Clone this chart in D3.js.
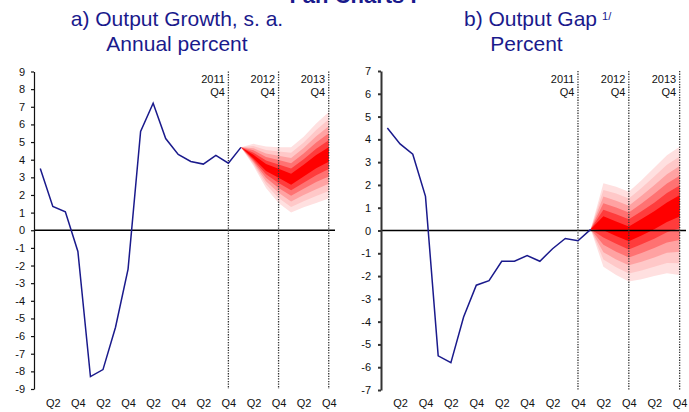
<!DOCTYPE html>
<html>
<head>
<meta charset="utf-8">
<script src="https://cdn.jsdelivr.net/npm/d3@7"></script>
<style>
  body { margin: 0; background: #fff; }
  svg { display: block; font-family: Arial, 'Liberation Sans', sans-serif; }
</style>
</head>
<body>
<div id="chart"></div>
<script>
// quarters shown on both panels
var quarters = ['2008Q1', '2008Q2', '2008Q3', '2008Q4', '2009Q1', '2009Q2', '2009Q3', '2009Q4',
  '2010Q1', '2010Q2', '2010Q3', '2010Q4', '2011Q1', '2011Q2', '2011Q3', '2011Q4',
  '2012Q1', '2012Q2', '2012Q3', '2012Q4', '2013Q1', '2013Q2', '2013Q3', '2013Q4']
var markers = ['2011Q4', '2012Q4', '2013Q4']

// a) output growth, history 2008Q1-2012Q1
var growthHist = [3.5, 1.35, 1.05, -1.2, -8.3, -7.9, -5.5, -2.2, 5.6, 7.2, 5.2, 4.3, 3.9, 3.75, 4.25, 3.8, 4.7]
// fan band edges 2012Q1-2013Q4, lowest to highest
var growthFan = [
  [4.70, 3.65, 2.40, 1.55, 1.00, 1.30, 1.55, 1.80],
  [4.70, 3.73, 2.59, 1.83, 1.32, 1.65, 1.94, 2.22],
  [4.70, 3.82, 2.78, 2.12, 1.63, 2.00, 2.33, 2.63],
  [4.70, 3.90, 2.98, 2.40, 1.95, 2.35, 2.73, 3.05],
  [4.70, 3.98, 3.17, 2.68, 2.27, 2.70, 3.12, 3.47],
  [4.70, 4.07, 3.36, 2.97, 2.58, 3.05, 3.51, 3.88],
  [4.70, 4.28, 3.75, 3.49, 3.20, 3.72, 4.26, 4.70],
  [4.70, 4.40, 3.95, 3.73, 3.50, 4.03, 4.62, 5.10],
  [4.70, 4.53, 4.15, 3.98, 3.80, 4.35, 4.98, 5.50],
  [4.70, 4.65, 4.35, 4.22, 4.10, 4.67, 5.33, 5.90],
  [4.70, 4.77, 4.55, 4.46, 4.40, 4.98, 5.69, 6.30],
  [4.70, 4.90, 4.75, 4.70, 4.70, 5.30, 6.05, 6.70]
]
var growthTicks = [-9, -8, -7, -6, -5, -4, -3, -2, -1, 0, 1, 2, 3, 4, 5, 6, 7, 8, 9]

// b) output gap
var gapHist = [4.5, 3.8, 3.35, 1.5, -5.5, -5.8, -3.8, -2.4, -2.2, -1.35, -1.35, -1.1, -1.35, -0.8, -0.35, -0.45, 0.05]
var gapFan = [
  [0.05, -1.59, -1.95, -2.24, -2.14, -2.00, -1.88, -1.95],
  [0.05, -1.27, -1.61, -1.89, -1.75, -1.59, -1.43, -1.44],
  [0.05, -0.95, -1.27, -1.53, -1.37, -1.18, -0.98, -0.93],
  [0.05, -0.63, -0.93, -1.18, -0.99, -0.77, -0.53, -0.42],
  [0.05, -0.31, -0.58, -0.83, -0.60, -0.36, -0.08, 0.10],
  [0.05, 0.01, -0.24, -0.47, -0.22, 0.05, 0.37, 0.61],
  [0.05, 0.62, 0.40, 0.18, 0.51, 0.84, 1.23, 1.55],
  [0.05, 0.91, 0.71, 0.49, 0.85, 1.22, 1.65, 1.97],
  [0.05, 1.20, 1.01, 0.79, 1.19, 1.61, 2.06, 2.40],
  [0.05, 1.49, 1.31, 1.09, 1.52, 1.99, 2.47, 2.83],
  [0.05, 1.78, 1.62, 1.40, 1.86, 2.37, 2.89, 3.25],
  [0.05, 2.07, 1.92, 1.70, 2.20, 2.75, 3.30, 3.68]
]
var gapTicks = [-7, -6, -5, -4, -3, -2, -1, 0, 1, 2, 3, 4, 5, 6, 7]

var navy = '#1a1a8c'

const fanPanel = (p) => {

  function render (svg) {
    var x = d3.scalePoint().domain(quarters).range([p.left, p.right]).padding(0.5)
    var y = d3.scaleLinear().domain(p.domain).range([p.bottom, p.top])
    var g = svg.append('g')

    // fan, drawn nested from the outer band inwards
    var fanQ = quarters.slice(p.hist.length - 1)
    var n = p.fan.length
    var shade = d3.scalePow().exponent(1.4).domain([0, n / 2 - 1]).
      range(['#ffe0e0', '#ff0000']).interpolate(d3.interpolateRgb)
    var area = d3.area().
      x((d, i) => x(fanQ[i])).
      y0(d => y(d[0])).
      y1(d => y(d[1]))
    for (var k = 0; k < n / 2; k++) {
      var lo = p.fan[k], hi = p.fan[n - 1 - k]
      g.append('path').
        datum(lo.map((v, i) => [v, hi[i]])).
        attr('fill', shade(k)).
        attr('d', area)
    }

    // zero line
    g.append('line').
      attr('x1', p.left).attr('x2', p.right).
      attr('y1', y(0)).attr('y2', y(0)).
      attr('stroke', '#000').attr('stroke-width', 1.3)

    // year end markers
    var mk = g.selectAll('.marker').data(markers).enter().append('g').attr('class', 'marker')
    mk.append('line').
      attr('x1', d => x(d)).attr('x2', d => x(d)).
      attr('y1', p.top).attr('y2', p.bottom).
      attr('stroke', '#333').attr('stroke-width', 1.3).
      attr('stroke-dasharray', '1.3,1.3')
    mk.append('text').
      attr('x', d => x(d) - 3.5).attr('y', 83).
      attr('text-anchor', 'end').attr('font-size', 11).attr('fill', '#111').
      text(d => d.slice(0, 4))
    mk.append('text').
      attr('x', d => x(d) - 3.5).attr('y', 95.5).
      attr('text-anchor', 'end').attr('font-size', 11).attr('fill', '#111').
      text(d => d.slice(4))

    // history line
    g.append('path').
      datum(p.hist).
      attr('fill', 'none').
      attr('stroke', navy).
      attr('stroke-width', 1.5).
      attr('d', d3.line().x((d, i) => x(quarters[i])).y(d => y(d)))

    // y axis
    var ya = g.append('g').
      attr('transform', 'translate(' + p.left + ',0)').
      call(d3.axisLeft(y).tickValues(p.ticks).tickFormat(d => String(d)).
        tickSize(3).tickSizeOuter(0).tickPadding(p.pad))
    ya.attr('font-family', null).attr('font-size', 11)
    ya.selectAll('text').attr('fill', '#111')
    ya.selectAll('line, path').attr('stroke', p.axisColor).attr('stroke-width', p.axisWidth)

    // x labels
    var xa = g.append('g').
      attr('transform', 'translate(0,' + p.bottom + ')').
      call(d3.axisBottom(x).
        tickValues(quarters.filter(q => /Q[24]$/.test(q))).
        tickFormat(q => q.slice(4)).
        tickSize(0).tickPadding(p.xpad))
    xa.attr('font-family', null).attr('font-size', 11)
    xa.select('.domain').remove()
    xa.selectAll('text').attr('fill', '#111')

    // titles
    var t1 = g.append('text').
      attr('x', p.cx).attr('y', 26).
      attr('text-anchor', 'middle').attr('font-size', 21).attr('fill', navy).
      text(p.title)
    g.append('text').
      attr('x', p.cx2 || p.cx).attr('y', 50.5).
      attr('text-anchor', 'middle').attr('font-size', 21).attr('fill', navy).
      text(p.subtitle)
    if (p.note) {
      var w = t1.node().getComputedTextLength()
      g.append('text').
        attr('x', p.cx + w / 2 + 5).attr('y', 20).
        attr('font-size', 11).attr('fill', navy).
        text(p.note)
    }
  }

  return render
}

var svg = d3.select('#chart').append('svg').
  attr('width', 689).
  attr('height', 412)

// page heading, cut off at the top edge as in the source
svg.append('text').
  attr('x', 353).attr('y', 3).
  attr('text-anchor', 'middle').
  attr('font-size', 22).attr('font-weight', 'bold').attr('fill', navy).
  text('Fan Charts I')

svg.call(fanPanel({
  left: 34, right: 335, top: 71.5, bottom: 389, domain: [-9, 9],
  hist: growthHist, fan: growthFan, ticks: growthTicks, pad: 6, xpad: 10,
  axisColor: '#111', axisWidth: 1.2,
  cx: 177, title: 'a) Output Growth, s. a.', subtitle: 'Annual percent'
}))

svg.call(fanPanel({
  left: 381, right: 686, top: 71, bottom: 390, domain: [-7, 7],
  hist: gapHist, fan: gapFan, ticks: gapTicks, pad: 7, xpad: 9.5,
  axisColor: '#333', axisWidth: 2,
  cx: 530.5, cx2: 526.5, title: 'b) Output Gap', subtitle: 'Percent', note: '1/'
}))
</script>
</body>
</html>
